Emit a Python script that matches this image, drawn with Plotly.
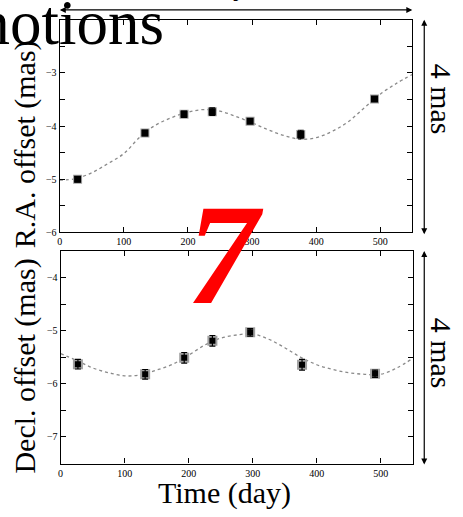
import plotly.graph_objects as go

W, H = 463, 517

# ---- data ----
fit_days = [0, 25, 50, 75, 100, 125, 150, 175, 200, 225, 250, 275, 300,
            325, 350, 375, 400, 425, 450, 475, 500, 525, 550]
ra_fit = [-5.02, -4.99, -4.88, -4.71, -4.52, -4.21, -3.98, -3.84, -3.74, -3.69,
          -3.72, -3.82, -3.94, -4.07, -4.18, -4.25, -4.22, -4.10, -3.92, -3.66,
          -3.40, -3.20, -3.03]
dec_fit = [-5.43, -5.56, -5.70, -5.79, -5.85, -5.83, -5.74, -5.63, -5.46, -5.27,
           -5.14, -5.08, -5.06, -5.16, -5.32, -5.50, -5.64, -5.73, -5.79, -5.82,
           -5.82, -5.70, -5.52]

ra_days = [28, 133, 194, 238, 297, 376, 491]
ra_obs = [-5.00, -4.13, -3.78, -3.73, -3.91, -4.16, -3.49]
ra_err = [0.05, 0.05, 0.06, 0.07, 0.04, 0.08, 0.04]

dec_days = [27, 132, 193, 237, 296, 377, 491]
dec_obs = [-5.63, -5.82, -5.51, -5.19, -5.03, -5.64, -5.81]
dec_err = [0.09, 0.09, 0.10, 0.10, 0.07, 0.10, 0.07]

x_ticks = [0, 100, 200, 300, 400, 500]
ra_ticks = [-6, -5.5, -5, -4.5, -4, -3.5, -3, -2.5, -2]
ra_labels = ["\u22126", "", "\u22125", "", "\u22124", "", "\u22123", "", ""]
dec_ticks = [-7.5, -7, -6.5, -6, -5.5, -5, -4.5, -4, -3.5]
dec_labels = ["", "\u22127", "", "\u22126", "", "\u22125", "", "\u22124", ""]

SERIF = "Liberation Serif, Times New Roman, serif"


def px_x(p):
    return p / W


def px_y(p):
    return 1 - p / H


fig = go.Figure()

# top panel
fig.add_trace(go.Scatter(x=fit_days, y=ra_fit, mode="lines", line_shape="spline",
                         line=dict(color="#8a8a8a", width=1.3, dash="dot"),
                         xaxis="x", yaxis="y", showlegend=False))
fig.add_trace(go.Scatter(x=ra_days, y=ra_obs, mode="markers",
                         marker=dict(symbol="square", size=9, color="#a0a0a0"),
                         xaxis="x", yaxis="y", showlegend=False))
fig.add_trace(go.Scatter(x=ra_days, y=ra_obs, mode="markers",
                         marker=dict(symbol="square", size=7, color="black"),
                         error_y=dict(type="data", array=ra_err, color="black",
                                      thickness=1.2, width=3),
                         xaxis="x", yaxis="y", showlegend=False))

# bottom panel
fig.add_trace(go.Scatter(x=fit_days, y=dec_fit, mode="lines", line_shape="spline",
                         line=dict(color="#8a8a8a", width=1.3, dash="dot"),
                         xaxis="x2", yaxis="y2", showlegend=False))
fig.add_trace(go.Scatter(x=dec_days, y=dec_obs, mode="markers",
                         marker=dict(symbol="square", size=10, color="#a0a0a0"),
                         xaxis="x2", yaxis="y2", showlegend=False))
fig.add_trace(go.Scatter(x=dec_days, y=dec_obs, mode="markers",
                         marker=dict(symbol="square", size=6, color="black"),
                         error_y=dict(type="data", array=dec_err, color="black",
                                      thickness=1.2, width=3),
                         xaxis="x2", yaxis="y2", showlegend=False))

axis_common = dict(showline=True, linecolor="black", linewidth=1.2, mirror="ticks",
                   ticks="inside", ticklen=5, tickwidth=1, tickcolor="black",
                   showgrid=False, zeroline=False,
                   tickfont=dict(family=SERIF, size=10, color="black"))

fig.update_layout(
    width=W, height=H,
    margin=dict(l=0, r=0, t=0, b=0),
    paper_bgcolor="white", plot_bgcolor="white",
    showlegend=False,
    xaxis=dict(domain=[px_x(57), px_x(412)], range=[0, 550], anchor="y",
               tickvals=x_ticks, **axis_common),
    yaxis=dict(domain=[px_y(235), px_y(20)], range=[-6, -2], anchor="x",
               tickvals=ra_ticks, ticktext=ra_labels, **axis_common),
    xaxis2=dict(domain=[px_x(58), px_x(412.5)], range=[0, 550], anchor="y2",
                tickvals=x_ticks, **axis_common),
    yaxis2=dict(domain=[px_y(469), px_y(254)], range=[-7.5, -3.5], anchor="x2",
                tickvals=dec_ticks, ticktext=dec_labels, **axis_common),
)

ann = []
# axis titles
ann.append(dict(text="R.A. offset (mas)", x=px_x(22), y=px_y(146), xref="paper", yref="paper",
                textangle=-90, showarrow=False, xanchor="center", yanchor="middle",
                font=dict(family=SERIF, size=30, color="black")))
ann.append(dict(text="Decl. offset (mas)", x=px_x(22), y=px_y(370), xref="paper", yref="paper",
                textangle=-90, showarrow=False, xanchor="center", yanchor="middle",
                font=dict(family=SERIF, size=30, color="black")))
ann.append(dict(text="Time (day)", x=px_x(223), y=px_y(499), xref="paper", yref="paper",
                showarrow=False, xanchor="center", yanchor="middle",
                font=dict(family=SERIF, size=30, color="black")))
# right side scale labels
for yc in (100, 357):
    ann.append(dict(text="4 mas", x=px_x(441), y=px_y(yc), xref="paper", yref="paper",
                    textangle=90, showarrow=False, xanchor="center", yanchor="middle",
                    font=dict(family=SERIF, size=30, color="black")))
# right side vertical arrows
for y0, y1 in ((20, 236), (254, 469)):
    ann.append(dict(text="", x=px_x(424), y=px_y(y0), xref="paper", yref="paper",
                    ax=0, ay=(y1 - y0), axref="pixel", ayref="pixel",
                    showarrow=True, arrowhead=2, startarrowhead=2, arrowside="end+start",
                    arrowsize=1, arrowwidth=1.2, arrowcolor="black", standoff=0, startstandoff=0))
# top horizontal arrow
ann.append(dict(text="", x=px_x(412), y=px_y(10), xref="paper", yref="paper",
                ax=-(412 - 58), ay=0, axref="pixel", ayref="pixel",
                showarrow=True, arrowhead=2, startarrowhead=2, arrowside="end+start",
                arrowsize=1, arrowwidth=1.2, arrowcolor="black", standoff=0, startstandoff=0))
ann.append(dict(text="1.5 year", x=px_x(235), y=px_y(3), xref="paper", yref="paper",
                showarrow=False, xanchor="center", yanchor="bottom",
                font=dict(family=SERIF, size=28, color="black")))
# title fragment
ann.append(dict(text="motions", x=px_x(164), y=px_y(61), xref="paper", yref="paper",
                showarrow=False, xanchor="right", yanchor="bottom",
                font=dict(family=SERIF, size=63, color="black")))
# red 7
ann.append(dict(text="7", x=px_x(224), y=px_y(258), xref="paper", yref="paper",
                showarrow=False, xanchor="center", yanchor="middle",
                font=dict(family=SERIF, size=143, color="red", weight="bold", style="italic")))

fig.update_layout(annotations=ann)

fig.write_html("out.html", config={"displayModeBar": False},
               post_script="document.body.style.margin='0';document.body.style.overflow='hidden';")
